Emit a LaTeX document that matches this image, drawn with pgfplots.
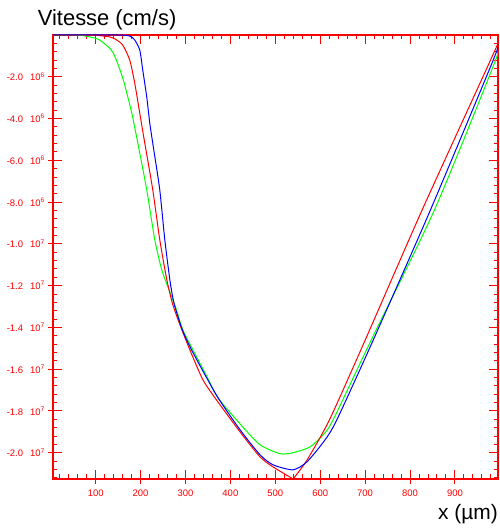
\documentclass[border=0pt]{standalone}
\usepackage{pgfplots}
\pgfplotsset{compat=1.18}
\usepackage{fontspec}
\setmainfont{Liberation Sans}

\pgfplotstableread{
x y
4.7 0
60 0
86.6 -0.09
108.9 -0.24
137.9 -0.81
160.3 -2.06
180.4 -3.74
196 -5.41
213.8 -7.42
231.7 -9.81
247.3 -11.25
265.2 -12.3
276.3 -12.92
294.2 -14.12
316.5 -15.07
347.8 -16.36
372.3 -17.37
421.4 -18.62
466 -19.62
510.7 -20.05
539.7 -20.00
577.6 -19.72
606.7 -19.14
629 -18.42
713.8 -14.6
854.4 -8.38
990.6 -1.2
997 -0.34
}\green

\pgfplotstableread{
x y
4.7 0
150 0
175.9 -0.05
187 -0.24
198.2 -0.72
204.9 -1.68
213.8 -2.97
220.5 -4.22
229.5 -5.51
242.8 -7.42
254 -9.81
265.2 -11.72
271.9 -12.59
275.2 -12.92
293 -14.12
316.5 -15.2
370 -17.28
421.4 -18.9
466 -20.1
495 -20.58
539.7 -20.82
571 -20.43
611 -19.38
637.3 -18.42
718.3 -14.6
845.5 -8.38
985.4 -1.2
997 -0.34
}\blue

\pgfplotstableread{
x y
4.7 0
86.6 0
131.2 -0.09
146.9 -0.24
160.3 -0.48
175.9 -1.20
187 -2.30
198.2 -3.74
209.4 -5.18
227.2 -7.42
242.8 -9.81
258.5 -11.72
271.9 -12.92
292 -14.12
314.3 -15.31
338.8 -16.51
365.6 -17.37
421.4 -19.0
466 -20.2
495 -20.68
539.7 -21.26
}\redA

\pgfplotstableread{
x y
539.7 -21.26
571 -20.34
620.8 -18.42
700.4 -14.6
827 -8.38
979.4 -1.2
997 -0.34
}\redB

\begin{document}
\begin{tikzpicture}
\path (-53bp,-50bp) rectangle (447bp,479bp);
\begin{axis}[
  scale only axis,
  width=445bp, height=444bp,
  xmin=5, xmax=996, ymin=-21.26, ymax=0,
  axis line style={red, line width=1.3bp},
  tick align=inside,
  major tick length=9bp,
  minor tick length=4.5bp,
  every tick/.style={red, line width=0.9bp},
  xtick={100,200,...,900},
  xticklabels={100,200,300,400,500,600,700,800,900},
  minor xtick={20,40,...,980},
  ytick={-20,-18,...,-2},
  yticklabels={
    -2.0\hspace{7bp}10\textsuperscript{7},
    -1.8\hspace{7bp}10\textsuperscript{7},
    -1.6\hspace{7bp}10\textsuperscript{7},
    -1.4\hspace{7bp}10\textsuperscript{7},
    -1.2\hspace{7bp}10\textsuperscript{7},
    -1.0\hspace{7bp}10\textsuperscript{7},
    -8.0\hspace{7bp}10\textsuperscript{6},
    -6.0\hspace{7bp}10\textsuperscript{6},
    -4.0\hspace{7bp}10\textsuperscript{6},
    -2.0\hspace{7bp}10\textsuperscript{6}},
  minor ytick={-21.2,-20.8,...,-0.3},
  xticklabel style={font=\fontsize{9.5}{11}\selectfont, text=red, inner sep=0pt, anchor=north, yshift=-11bp},
  yticklabel style={font=\fontsize{9.5}{11}\selectfont, text=red, inner sep=0pt, anchor=east, xshift=-8bp},
]
\addplot[green, line width=1bp, smooth, tension=0.4] table {\green};
\addplot[red, line width=1bp, smooth, tension=0.4] table {\redA};
\addplot[red, line width=1bp, smooth, tension=0.4] table {\redB};
\addplot[blue, line width=1bp, smooth, tension=0.4] table {\blue};
\end{axis}
\begin{axis}[
  scale only axis,
  width=445bp, height=444bp,
  xmin=5, xmax=996, ymin=-21.26, ymax=0,
  axis line style={draw=none},
  tick align=outside,
  major tick length=4.5bp,
  every tick/.style={red, line width=0.9bp},
  xtick pos=bottom, ytick pos=left,
  xtick={100,200,...,900}, xticklabels={},
  ytick={-20,-18,...,-2}, yticklabels={},
]
\end{axis}
\node[anchor=base west, inner sep=0pt, font=\fontsize{22}{26}\selectfont] at (-15.3bp,453bp) {Vitesse (cm/s)};
\node[anchor=base east, inner sep=0pt, font=\fontsize{21}{25}\selectfont] at (445bp,-40bp) {x (µm)};
\end{tikzpicture}
\end{document}
